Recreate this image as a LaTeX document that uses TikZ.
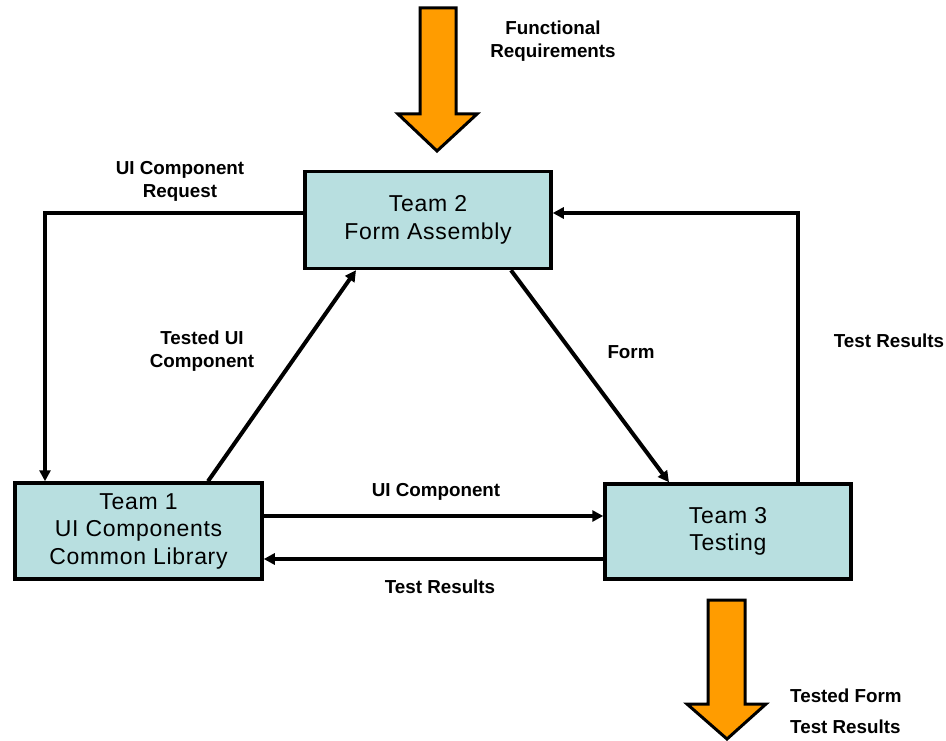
\documentclass[tikz,border=0pt]{standalone}
\usepackage{fontspec}
\setmainfont{Liberation Sans}
\newfontfamily\boxfont[LetterSpace=3]{Liberation Sans}
\usetikzlibrary{arrows.meta}
\definecolor{boxfill}{HTML}{B8DFE0}
\definecolor{orangefill}{HTML}{FF9C00}
\begin{document}
\begin{tikzpicture}[x=1pt,y=-1pt,
  teambox/.style={draw=black,line width=3.5pt,fill=boxfill,inner sep=0pt},
  teamtext/.style={font=\boxfont\fontsize{23}{27.5}\selectfont,align=center,inner sep=0pt},
  lbl/.style={font=\bfseries\fontsize{18.8}{23}\selectfont,align=center,inner sep=0pt},
  conn/.style={line width=4pt,-{Triangle[length=11pt,width=11pt]}},
  bigarrow/.style={draw=black,line width=3pt,fill=orangefill,line join=miter}]
\useasboundingbox (0,0) rectangle (946,741);
% orange arrows
\draw[bigarrow] (420,8) -- (456,8) -- (456,114) -- (477,114) -- (437,151) -- (398,114) -- (420,114) -- cycle;
\draw[bigarrow] (708,600) -- (745,600) -- (745,704) -- (766,704) -- (727,739) -- (687,704) -- (708,704) -- cycle;
% boxes
\node[teambox,minimum width=246pt,minimum height=97pt] (t2) at (428,220) {};
\node[teambox,minimum width=247pt,minimum height=96pt] (t1) at (138.5,531) {};
\node[teambox,minimum width=246pt,minimum height=95pt] (t3) at (728,531.5) {};
\node[teamtext] (t2t) at (t2.center) {Team 2\\Form Assembly};
\node[teamtext] (t1t) at (t1.center) {Team 1\\UI Components\\Common Library};
\node[teamtext] (t3t) at (t3.center) {Team 3\\Testing};
% connectors
\coordinate (c1) at (45,213);
\coordinate (c2) at (798,213);
\draw[conn] (t2.west |- c1) -- (c1) -- (t1.north -| c1);
\draw[conn] (t3.north -| c2) -- (c2) -- (t2.east |- c2);
\draw[conn] (t1.north -| 208,0) -- (t2.south -| 356,0);
\draw[conn] (t2.south -| 511,0) -- (t3.north -| 669,0);
\draw[conn] (t1.east |- 0,516) -- (t3.west |- 0,516);
\draw[conn] (t3.west |- 0,559) -- (t1.east |- 0,559);
% labels
\node[lbl] (l1) at (553,41) {Functional\\Requirements};
\node[lbl] (l2) at (180,181) {UI Component\\Request};
\node[lbl] (l3) at (202,351) {Tested UI\\Component};
\node[lbl] (l4) at (631,352) {Form};
\node[lbl] (l5) at (889,341) {Test Results};
\node[lbl] (l6) at (436,492) {UI Component};
\node[lbl] (l7) at (440,587) {Test Results};
\node[lbl,anchor=west] (l8) at (790,696) {Tested Form};
\node[lbl,anchor=west] (l9) at (790,727) {Test Results};
\end{tikzpicture}
\end{document}
